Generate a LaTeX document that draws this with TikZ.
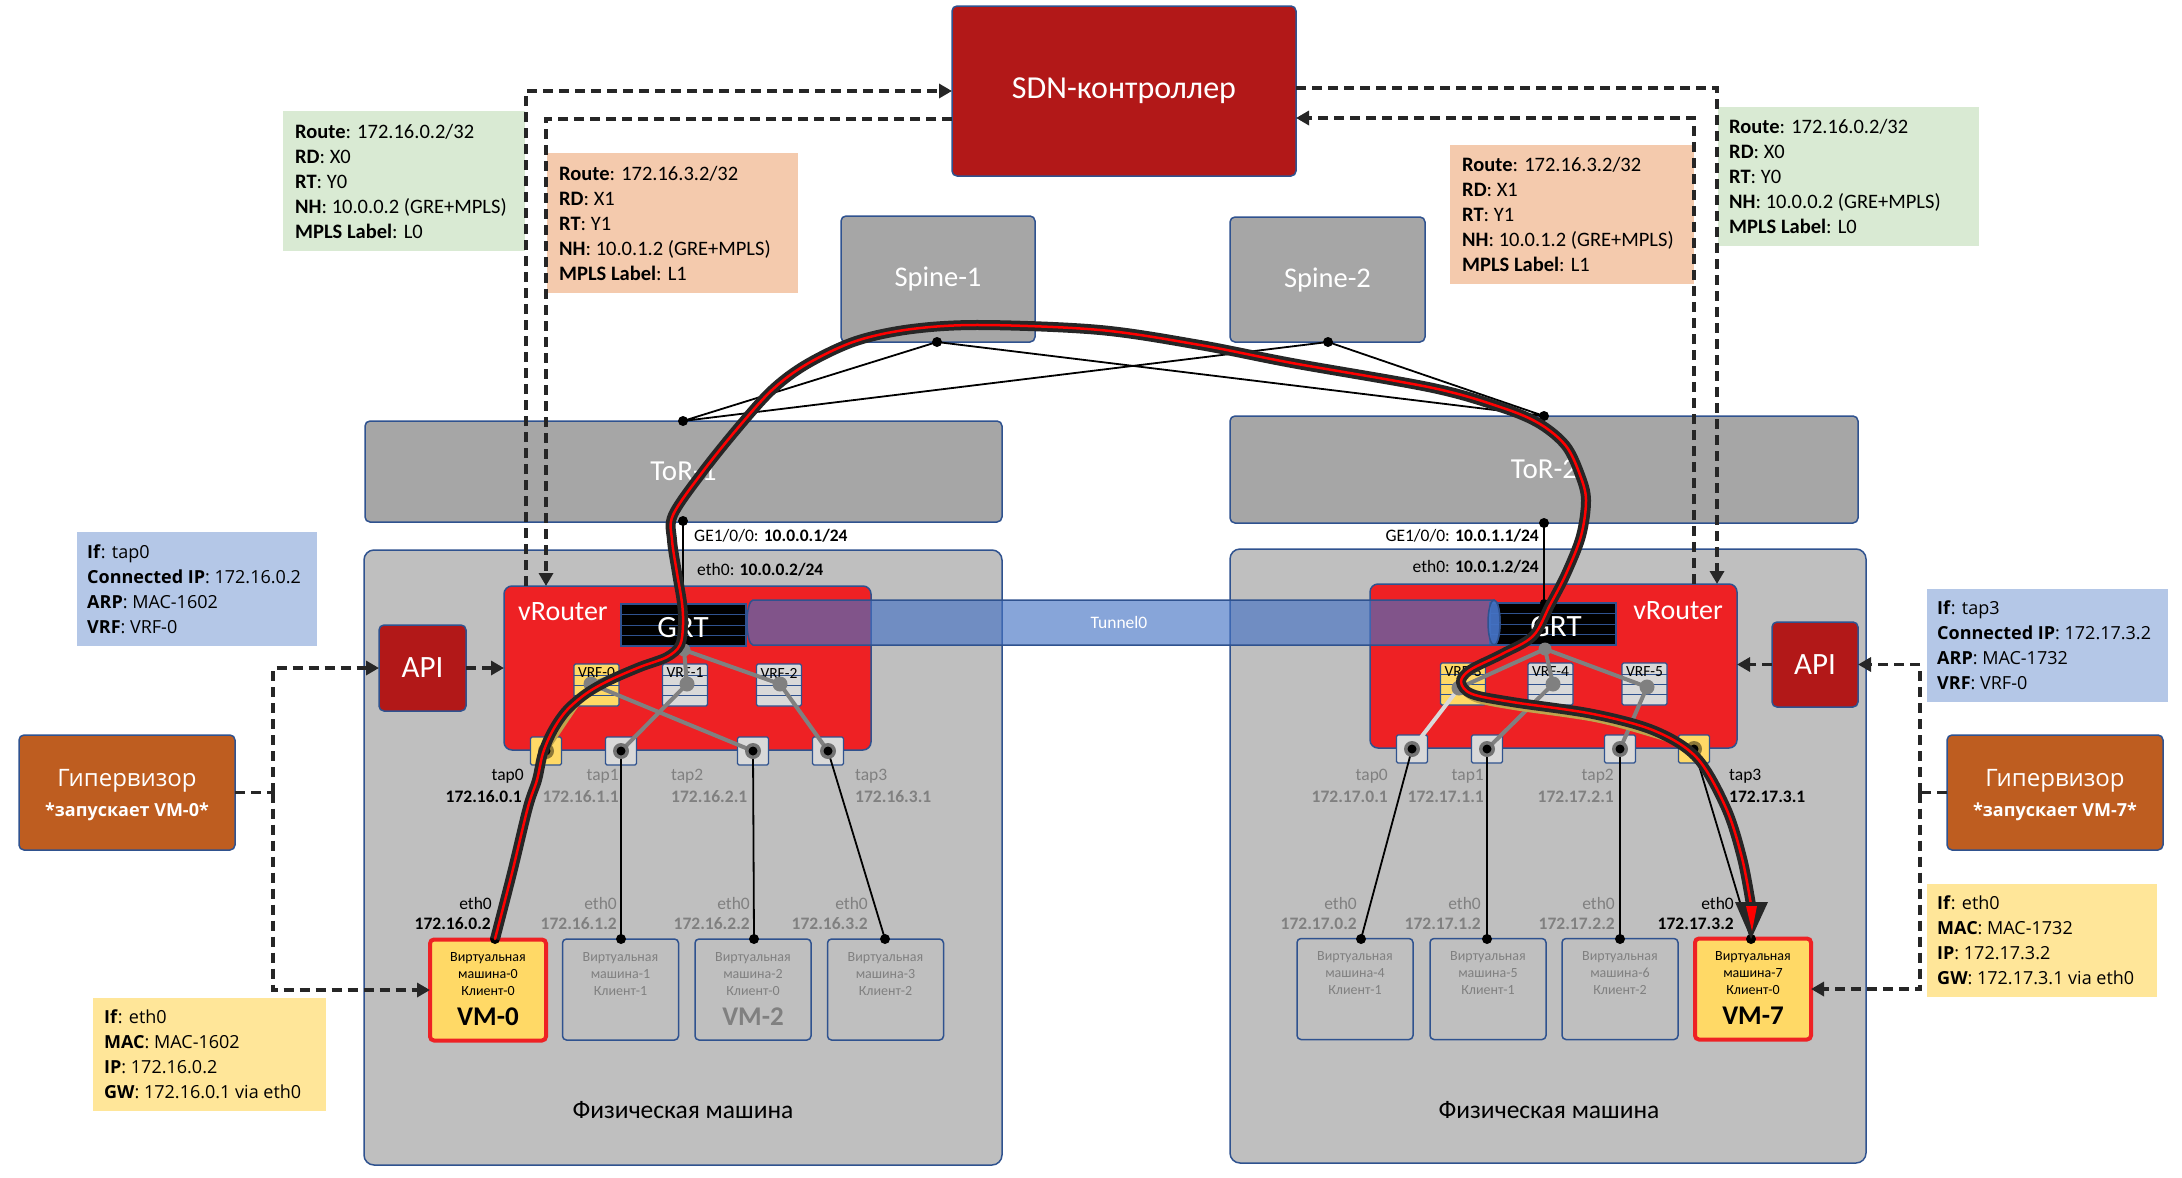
\documentclass[tikz,border=0pt]{standalone}
\usepackage{fontspec}
\setmainfont{Carlito}
\newfontfamily\osans{Open Sans}
\usetikzlibrary{arrows.meta}
\newcommand\myfs[2]{\fontsize{#1}{#2}\selectfont}
\definecolor{bblue}{RGB}{47,82,143}
\definecolor{sdnred}{RGB}{178,24,24}
\definecolor{vred}{RGB}{238,33,36}
\definecolor{torgray}{RGB}{166,166,166}
\definecolor{physgray}{RGB}{191,191,191}
\definecolor{lgray}{RGB}{217,217,217}
\definecolor{vyellow}{RGB}{255,217,102}
\definecolor{iblue}{RGB}{180,199,231}
\definecolor{iyellow}{RGB}{255,230,153}
\definecolor{igreen}{RGB}{217,234,211}
\definecolor{iorange}{RGB}{244,202,173}
\definecolor{hyporange}{RGB}{190,93,32}
\definecolor{tunblue}{RGB}{68,114,196}
\definecolor{txtgray}{RGB}{128,128,128}
\definecolor{dgray}{RGB}{128,128,128}
\begin{document}
\begin{tikzpicture}[x=1pt,y=-1pt,
  box/.style={draw=bblue, line width=1.5pt, rounded corners=5pt, inner sep=0pt, outer sep=0pt},
  sbox/.style={draw=bblue, line width=1.2pt, rounded corners=1.5pt, inner sep=0pt, outer sep=0pt},
  ibox/.style={inner sep=0pt, outer sep=0pt, anchor=north west},
  itxt/.style={inner sep=0pt, align=left, anchor=west},
  lbl/.style={inner sep=0pt, font=\myfs{17.5}{20}},
  glbl/.style={inner sep=0pt, font=\myfs{17.5}{20}, text=txtgray},
  dl/.style={draw=black!85, line width=3.5pt, dash pattern=on 10pt off 6pt},
  arw/.style={-{Triangle[length=13pt,width=14pt]}},
  gline/.style={draw=dgray, line width=4pt},
  tline/.style={draw=black, line width=1.8pt},
  vmtxt/.style={inner sep=0pt, align=center, font=\myfs{14}{16.7}},
  vmbox/.style={box, rounded corners=4pt, minimum width=116, minimum height=101},
  selvm/.style={vmbox, fill=vyellow, draw=vred, line width=4pt}
]
\useasboundingbox (0,0) rectangle (2182,1178);

% ---------- info boxes ----------
\node[ibox, fill=igreen, minimum width=242, minimum height=140] (g1) at (283,111) {};
\node[itxt, font=\myfs{20.5}{25}] (g1t) at ([xshift=12pt]g1.west) {\textbf{Route}: 172.16.0.2/32\\\textbf{RD}: X0\\\textbf{RT}: Y0\\\textbf{NH}: 10.0.0.2 (GRE+MPLS)\\\textbf{MPLS Label}: L0};
\node[ibox, fill=iorange, minimum width=251, minimum height=140] (o1) at (547,153) {};
\node[itxt, font=\myfs{20.5}{25}] (o1t) at ([xshift=12pt]o1.west) {\textbf{Route}: 172.16.3.2/32\\\textbf{RD}: X1\\\textbf{RT}: Y1\\\textbf{NH}: 10.0.1.2 (GRE+MPLS)\\\textbf{MPLS Label}: L1};
\node[ibox, fill=iorange, minimum width=244, minimum height=139] (o2) at (1450,145) {};
\node[itxt, font=\myfs{20.5}{25}] (o2t) at ([xshift=12pt]o2.west) {\textbf{Route}: 172.16.3.2/32\\\textbf{RD}: X1\\\textbf{RT}: Y1\\\textbf{NH}: 10.0.1.2 (GRE+MPLS)\\\textbf{MPLS Label}: L1};
\node[ibox, fill=igreen, minimum width=261, minimum height=139] (g2) at (1718,107) {};
\node[itxt, font=\myfs{20.5}{25}] (g2t) at ([xshift=11pt]g2.west) {\textbf{Route}: 172.16.0.2/32\\\textbf{RD}: X0\\\textbf{RT}: Y0\\\textbf{NH}: 10.0.0.2 (GRE+MPLS)\\\textbf{MPLS Label}: L0};

\node[ibox, fill=iblue, minimum width=240, minimum height=114] (b1) at (77,532) {};
\node[itxt, font=\osans\myfs{18}{25}] (b1t) at ([xshift=10pt]b1.west) {\textbf{If}: tap0\\\textbf{Connected IP}: 172.16.0.2\\\textbf{ARP}: MAC-1602\\\textbf{VRF}: VRF-0};
\node[ibox, fill=iyellow, minimum width=233, minimum height=113] (y1) at (93,998) {};
\node[itxt, font=\osans\myfs{18}{25}] (y1t) at ([xshift=11pt]y1.west) {\textbf{If}: eth0\\\textbf{MAC}: MAC-1602\\\textbf{IP}: 172.16.0.2\\\textbf{GW}: 172.16.0.1 via eth0};
\node[ibox, fill=iblue, minimum width=241, minimum height=113] (b2) at (1927,589) {};
\node[itxt, font=\osans\myfs{18}{25}] (b2t) at ([xshift=10pt]b2.west) {\textbf{If}: tap3\\\textbf{Connected IP}: 172.17.3.2\\\textbf{ARP}: MAC-1732\\\textbf{VRF}: VRF-0};
\node[ibox, fill=iyellow, minimum width=230, minimum height=113] (y2) at (1927,884) {};
\node[itxt, font=\osans\myfs{18}{25}] (y2t) at ([xshift=10pt]y2.west) {\textbf{If}: eth0\\\textbf{MAC}: MAC-1732\\\textbf{IP}: 172.17.3.2\\\textbf{GW}: 172.17.3.1 via eth0};

% ---------- big boxes ----------
\node[box, fill=sdnred, minimum width=344, minimum height=170, text=white, font=\myfs{32}{38}] (sdn) at (1124,91) {SDN-контроллер};
\node[box, fill=torgray, minimum width=194, minimum height=126, text=white, font=\myfs{28.5}{30}] (sp1) at (938,279) {Spine-1};
\node[box, fill=torgray, minimum width=195, minimum height=125, text=white, font=\myfs{28.5}{30}] (sp2) at (1327.5,279.5) {Spine-2};
\node[box, fill=torgray, minimum width=637, minimum height=101, text=white, font=\myfs{29}{30}] (tor1) at (683.5,471.5) {ToR-1};
\node[box, fill=torgray, minimum width=628, minimum height=107, text=white, font=\myfs{29}{30}] (tor2) at (1544,469.5) {ToR-2};
\node[box, fill=physgray, rounded corners=10pt, minimum width=638, minimum height=615] (ph1) at (683,857.5) {};
\node[box, fill=physgray, rounded corners=10pt, minimum width=636, minimum height=614] (ph2) at (1548,856) {};
\node[inner sep=0pt, font=\myfs{25.5}{28}] (ph1t) at (683,1110) {Физическая машина};
\node[inner sep=0pt, font=\myfs{25.5}{28}] (ph2t) at (1549,1110) {Физическая машина};

% spine - tor links
\coordinate (s1d) at (937,342);
\coordinate (s2d) at (1328,342);
\coordinate (r1d) at (683,421);
\coordinate (r2d) at (1544,416);
\coordinate (r1b) at (683,521);
\coordinate (r2b) at (1544,523);
\draw[black, line width=1.8pt] (s1d) -- (r1d) (s1d) -- (r2d) (s2d) -- (r1d) (s2d) -- (r2d);

% ---------- vRouters ----------
\node[box, fill=vred, rounded corners=8pt, minimum width=367, minimum height=164] (vr1) at (687.5,668) {};
\node[box, fill=vred, rounded corners=8pt, minimum width=367, minimum height=164] (vr2) at (1553.5,666) {};
\node[inner sep=0pt, anchor=west, text=white, font=\myfs{28}{30}] (vr1t) at (518,612) {vRouter};
\node[inner sep=0pt, anchor=east, text=white, font=\myfs{28}{30}] (vr2t) at (1723,611) {vRouter};

\draw[tline] (r1b) -- (683,604);
\draw[tline] (r2b) -- (1544,603);

% GRT tables
\node[fill=black, draw=bblue, line width=1.5pt, inner sep=0pt, minimum width=125, minimum height=42] (grt1) at (683.5,625) {};
\node[fill=black, draw=bblue, line width=1.5pt, inner sep=0pt, minimum width=126, minimum height=42] (grt2) at (1553,624) {};
\foreach \yy in {614,625,635} {\draw[bblue, line width=1pt] (grt1.west |- 0,\yy) -- (grt1.east |- 0,\yy);}
\foreach \yy in {613,624,634} {\draw[bblue, line width=1pt] (grt2.west |- 0,\yy) -- (grt2.east |- 0,\yy);}
\node[inner sep=0pt, text=white, font=\myfs{31}{33}] (grt1t) at (683,628) {GRT};
\node[inner sep=0pt, text=white, font=\myfs{31}{33}] (grt2t) at (1556,627) {GRT};

% VRF boxes
\node[sbox, fill=vyellow, minimum width=45, minimum height=42] (vrf0) at (596.5,685) {};
\node[sbox, fill=lgray, minimum width=45, minimum height=42] (vrf1) at (685,685) {};
\node[sbox, fill=lgray, minimum width=45, minimum height=42] (vrf2) at (779,685) {};
\node[sbox, fill=vyellow, minimum width=45, minimum height=42] (vrf3) at (1463,684) {};
\node[sbox, fill=lgray, minimum width=45, minimum height=42] (vrf4) at (1550.5,684) {};
\node[sbox, fill=lgray, minimum width=45, minimum height=42] (vrf5) at (1644.5,684) {};
\foreach \v in {vrf0,vrf1,vrf2} {\foreach \yy in {675,685,695} {\draw[bblue, line width=0.9pt] (\v.west |- 0,\yy) -- (\v.east |- 0,\yy);}}
\foreach \v in {vrf3,vrf4,vrf5} {\foreach \yy in {674,684,694} {\draw[bblue, line width=0.9pt] (\v.west |- 0,\yy) -- (\v.east |- 0,\yy);}}
\node[inner sep=0pt, font=\myfs{15.5}{17}] (vrf0t) at (596.5,673) {VRF-0};
\node[inner sep=0pt, font=\myfs{15.5}{17}] (vrf1t) at (685,673) {VRF-1};
\node[inner sep=0pt, font=\myfs{15.5}{17}] (vrf2t) at (779,673) {VRF-2};
\node[inner sep=0pt, font=\myfs{15.5}{17}] (vrf3t) at (1463,672) {VRF-3};
\node[inner sep=0pt, font=\myfs{15.5}{17}] (vrf4t) at (1550.5,672) {VRF-4};
\node[inner sep=0pt, font=\myfs{15.5}{17}] (vrf5t) at (1644.5,672) {VRF-5};

% tap boxes
\node[sbox, fill=vyellow, minimum width=31, minimum height=28] (t0a) at (546,751) {};
\node[sbox, fill=lgray, minimum width=31, minimum height=28] (t1a) at (621,751) {};
\node[sbox, fill=lgray, minimum width=31, minimum height=28] (t2a) at (753,751) {};
\node[sbox, fill=lgray, minimum width=31, minimum height=28] (t3a) at (828,751) {};
\node[sbox, fill=lgray, minimum width=31, minimum height=28] (t0b) at (1412,749) {};
\node[sbox, fill=lgray, minimum width=31, minimum height=28] (t1b) at (1487,749) {};
\node[sbox, fill=lgray, minimum width=31, minimum height=28] (t2b) at (1620,749) {};
\node[sbox, fill=vyellow, minimum width=31, minimum height=28] (t3b) at (1694,749) {};

% API and hypervisors
\node[box, fill=sdnred, minimum width=87, minimum height=86, text=white, font=\myfs{31}{34}] (api1) at (422.5,668) {API};
\node[box, fill=sdnred, minimum width=86, minimum height=85, text=white, font=\myfs{31}{34}] (api2) at (1815,664.5) {API};
\node[box, fill=hyporange, minimum width=216, minimum height=115] (hyp1) at (127,792.5) {};
\node[inner sep=0pt, text=white, font=\osans\myfs{24}{28}] (hyp1a) at (127,781) {Гипервизор};
\node[inner sep=0pt, text=white, font=\osans\bfseries\myfs{18}{22}] (hyp1b) at (127,812) {*запускает VM-0*};
\node[box, fill=hyporange, minimum width=216, minimum height=115] (hyp2) at (2055,792.5) {};
\node[inner sep=0pt, text=white, font=\osans\myfs{24}{28}] (hyp2a) at (2055,781) {Гипервизор};
\node[inner sep=0pt, text=white, font=\osans\bfseries\myfs{18}{22}] (hyp2b) at (2055,812) {*запускает VM-7*};

% VMs
\node[selvm] (vm0) at (488,990) {};
\node[vmbox] (vm1) at (620.5,989.5) {};
\node[vmbox] (vm2) at (753,989.5) {};
\node[vmbox] (vm3) at (885.5,989.5) {};
\node[vmbox] (vm4) at (1355,989) {};
\node[vmbox] (vm5) at (1488,989) {};
\node[vmbox] (vm6) at (1620,989) {};
\node[selvm] (vm7) at (1753,989) {};
\node[vmtxt] (vm0t) at (488,974) {Виртуальная\\машина-0\\Клиент-0};
\node[vmtxt, text=txtgray] (vm1t) at (620.5,974) {Виртуальная\\машина-1\\Клиент-1};
\node[vmtxt, text=txtgray] (vm2t) at (753,974) {Виртуальная\\машина-2\\Клиент-0};
\node[vmtxt, text=txtgray] (vm3t) at (885.5,974) {Виртуальная\\машина-3\\Клиент-2};
\node[vmtxt, text=txtgray] (vm4t) at (1355,973) {Виртуальная\\машина-4\\Клиент-1};
\node[vmtxt, text=txtgray] (vm5t) at (1488,973) {Виртуальная\\машина-5\\Клиент-1};
\node[vmtxt, text=txtgray] (vm6t) at (1620,973) {Виртуальная\\машина-6\\Клиент-2};
\node[vmtxt] (vm7t) at (1753,973) {Виртуальная\\машина-7\\Клиент-0};
\node[inner sep=0pt, font=\bfseries\myfs{27}{30}] (vm0l) at (488,1017) {VM-0};
\node[inner sep=0pt, font=\bfseries\myfs{27}{30}, text=txtgray] (vm2l) at (753,1017) {VM-2};
\node[inner sep=0pt, font=\bfseries\myfs{27}{30}] (vm7l) at (1753,1016) {VM-7};

% ---------- tunnel ----------
\path[fill=tunblue, fill opacity=0.64, draw=bblue, line width=1.5pt] (753,600) -- (1494,600) arc[start angle=90, end angle=-90, x radius=6pt, y radius=22.5pt] -- (753,645) arc[start angle=270, end angle=90, x radius=6pt, y radius=22.5pt] -- cycle;
\draw[bblue, line width=1.5pt, fill=tunblue, fill opacity=0.85] (1494,622.5) ellipse[x radius=6pt, y radius=22.5pt];
\node[inner sep=0pt, text=white, font=\myfs{17.5}{20}] (tunt) at (1119,622) {Tunnel0};

% ---------- labels ----------
\node[lbl, anchor=west] (ge1) at (694,536) {GE1/0/0: \textbf{10.0.0.1/24}};
\node[lbl, anchor=west] (e1) at (697,570) {eth0: \textbf{10.0.0.2/24}};
\node[lbl, anchor=east] (ge2) at (1539,536) {GE1/0/0: \textbf{10.0.1.1/24}};
\node[lbl, anchor=east] (e2) at (1539,567) {eth0: \textbf{10.0.1.2/24}};

\node[lbl, anchor=east] (lt0) at (524,776) {tap0};
\node[lbl, anchor=east, font=\bfseries\myfs{17.5}{20}] (lt0i) at (522,797) {172.16.0.1};
\node[glbl, anchor=east] (lt1) at (619,776) {tap1};
\node[glbl, anchor=east, font=\bfseries\myfs{17.5}{20}] (lt1i) at (619,797) {172.16.1.1};
\node[glbl, anchor=west] (lt2) at (671,776) {tap2};
\node[glbl, anchor=west, font=\bfseries\myfs{17.5}{20}] (lt2i) at (671,797) {172.16.2.1};
\node[glbl, anchor=west] (lt3) at (855,776) {tap3};
\node[glbl, anchor=west, font=\bfseries\myfs{17.5}{20}] (lt3i) at (855,797) {172.16.3.1};
\node[glbl, anchor=east] (rt0) at (1388,776) {tap0};
\node[glbl, anchor=east, font=\bfseries\myfs{17.5}{20}] (rt0i) at (1388,797) {172.17.0.1};
\node[glbl, anchor=east] (rt1) at (1484,776) {tap1};
\node[glbl, anchor=east, font=\bfseries\myfs{17.5}{20}] (rt1i) at (1484,797) {172.17.1.1};
\node[glbl, anchor=east] (rt2) at (1614,776) {tap2};
\node[glbl, anchor=east, font=\bfseries\myfs{17.5}{20}] (rt2i) at (1614,797) {172.17.2.1};
\node[lbl, anchor=west] (rt3) at (1729,776) {tap3};
\node[lbl, anchor=west, font=\bfseries\myfs{17.5}{20}] (rt3i) at (1729,797) {172.17.3.1};

\node[lbl, anchor=east] (le0) at (492,903) {eth0};
\node[lbl, anchor=east, font=\bfseries\myfs{17.5}{20}] (le0i) at (491,924) {172.16.0.2};
\node[glbl, anchor=east] (le1) at (617,903) {eth0};
\node[glbl, anchor=east, font=\bfseries\myfs{17.5}{20}] (le1i) at (617,924) {172.16.1.2};
\node[glbl, anchor=east] (le2) at (750,903) {eth0};
\node[glbl, anchor=east, font=\bfseries\myfs{17.5}{20}] (le2i) at (750,924) {172.16.2.2};
\node[glbl, anchor=east] (le3) at (868,903) {eth0};
\node[glbl, anchor=east, font=\bfseries\myfs{17.5}{20}] (le3i) at (868,924) {172.16.3.2};
\node[glbl, anchor=east] (re4) at (1357,903) {eth0};
\node[glbl, anchor=east, font=\bfseries\myfs{17.5}{20}] (re4i) at (1357,924) {172.17.0.2};
\node[glbl, anchor=east] (re5) at (1481,903) {eth0};
\node[glbl, anchor=east, font=\bfseries\myfs{17.5}{20}] (re5i) at (1481,924) {172.17.1.2};
\node[glbl, anchor=east] (re6) at (1615,903) {eth0};
\node[glbl, anchor=east, font=\bfseries\myfs{17.5}{20}] (re6i) at (1615,924) {172.17.2.2};
\node[lbl, anchor=east] (re7) at (1734,903) {eth0};
\node[lbl, anchor=east, font=\bfseries\myfs{17.5}{20}] (re7i) at (1734,924) {172.17.3.2};

% ---------- internal links ----------
\coordinate (hub1) at (684,650);
\coordinate (hub2) at (1545,649);
\coordinate (v0d) at (591,684);
\coordinate (v1d) at (687,684);
\coordinate (v2d) at (780,684);
\coordinate (v3d) at (1459,688);
\coordinate (v4d) at (1553,684);
\coordinate (v5d) at (1647,687);
\coordinate (vm0d) at (495,939);
\coordinate (vm1d) at (621,939);
\coordinate (vm2d) at (754,939);
\coordinate (vm3d) at (885,939);
\coordinate (vm4d) at (1361,939);
\coordinate (vm5d) at (1487,939);
\coordinate (vm6d) at (1620,939);
\coordinate (vm7d) at (1751,939);

\draw[gline] (hub1) -- (v0d) (hub1) -- (v1d) (hub1) -- (v2d);
\draw[gline] (v0d) -- (t2a.center) (v1d) -- (t1a.center) (v2d) -- (t3a.center);
\draw[gline, draw=vyellow!75!black] (v0d) -- (t0a.center);
\draw[gline] (hub2) -- (v3d) (hub2) -- (v4d) (hub2) -- (v5d);
\draw[gline] (v4d) -- (t1b.center) (v5d) -- (t2b.center);
\draw[gline, draw=lgray] (v3d) -- (t0b.center);
\draw[gline, draw=vyellow!75!black] plot[smooth, tension=0.55] coordinates {(v3d) (1475,700) (1514,708) (1595,720) (1655,736) (t3b.center)};

\draw[tline] (t0a.center) -- (vm0d) (t1a.center) -- (vm1d) (t2a.center) -- (vm2d) (t3a.center) -- (vm3d);
\draw[tline] (t0b.center) -- (vm4d) (t1b.center) -- (vm5d) (t2b.center) -- (vm6d) (t3b.center) -- (vm7d);

\foreach \c in {hub1,hub2} {\fill[dgray] (\c) circle[radius=6.5pt];}
\foreach \c in {v0d,v1d,v2d,v3d,v4d,v5d} {\fill[dgray] (\c) circle[radius=7.5pt];}
\foreach \c in {t1a,t2a,t3a,t0b,t1b,t2b} {\fill[black!55] (\c.center) circle[radius=8pt]; \fill[black] (\c.center) circle[radius=4.5pt];}
\foreach \c in {t0a,t3b} {\fill[vyellow!55!black] (\c.center) circle[radius=8pt]; \fill[black] (\c.center) circle[radius=4.5pt];}
\foreach \c in {s1d,s2d,r1d,r2d,r1b,r2b,vm0d,vm1d,vm2d,vm3d,vm4d,vm5d,vm6d,vm7d} {\fill[black] (\c) circle[radius=5pt];}
\fill[black] (1544,603) circle[radius=4pt];
\fill[black] (683,604) circle[radius=4pt];

% ---------- dashed control links ----------
\draw[dl, arw] ([xshift=22pt]vr1.north west) |- (sdn.west);
\draw[dl, arw] ([yshift=-28pt]sdn.west) -| ([xshift=42pt]vr1.north west);
\draw[dl, arw] ([yshift=3pt]sdn.east) -| ([xshift=-20pt]vr2.north east);
\draw[dl, arw] ([xshift=-43pt]vr2.north east) |- ([yshift=-27pt]sdn.east);

\coordinate (h1j) at (273,792.5);
\draw[dl] (hyp1.east) -- (h1j);
\draw[dl, arw] (h1j) |- (api1.west);
\draw[dl, arw] (h1j) |- (vm0.west);
\draw[dl, arw] (api1.east) -- (api1.east -| vr1.west);
\coordinate (h2j) at (1920,792.5);
\draw[dl] (hyp2.west) -- (h2j);
\draw[dl, arw] (h2j) |- (api2.east);
\draw[dl, arw] (h2j) |- (vm7.east);
\draw[dl, arw] (api2.west) -- (api2.west -| vr2.east);

% ---------- traffic path ----------
\draw[red, line width=2.5pt, line cap=round, line join=round,
      preaction={draw=black!85, line width=10pt}]
  plot[smooth, tension=0.55] coordinates {(vm0d) (512,873) (528,807) (537,780) (543,753) (553,730) (567,710) (587,693) (610,680) (640,667) (667,657) (680,645) (683,625) (682,603) (677,573) (672,540) (673,515) (701,474) (737,429) (772,390) (807,364) (856,341) (912,329) (982,325) (1100,330) (1200,345) (1292,363) (1433,388) (1503,408) (1540,424) (1566,446) (1580,475) (1586,500) (1581,536) (1566,574) (1550,605) (1533,636) (1502,654) (1470,670) (1461,682) (1472,694) (1512,702) (1593,714) (1655,731) (1697,758) (1726,808) (1742,858) (1751,905)};
\fill[black!85] (1735,902) -- (1768,902) -- (vm7d) -- cycle;
\fill[red] (1746,906) -- (1757,906) -- (1752,931) -- cycle;

\end{tikzpicture}
\end{document}
